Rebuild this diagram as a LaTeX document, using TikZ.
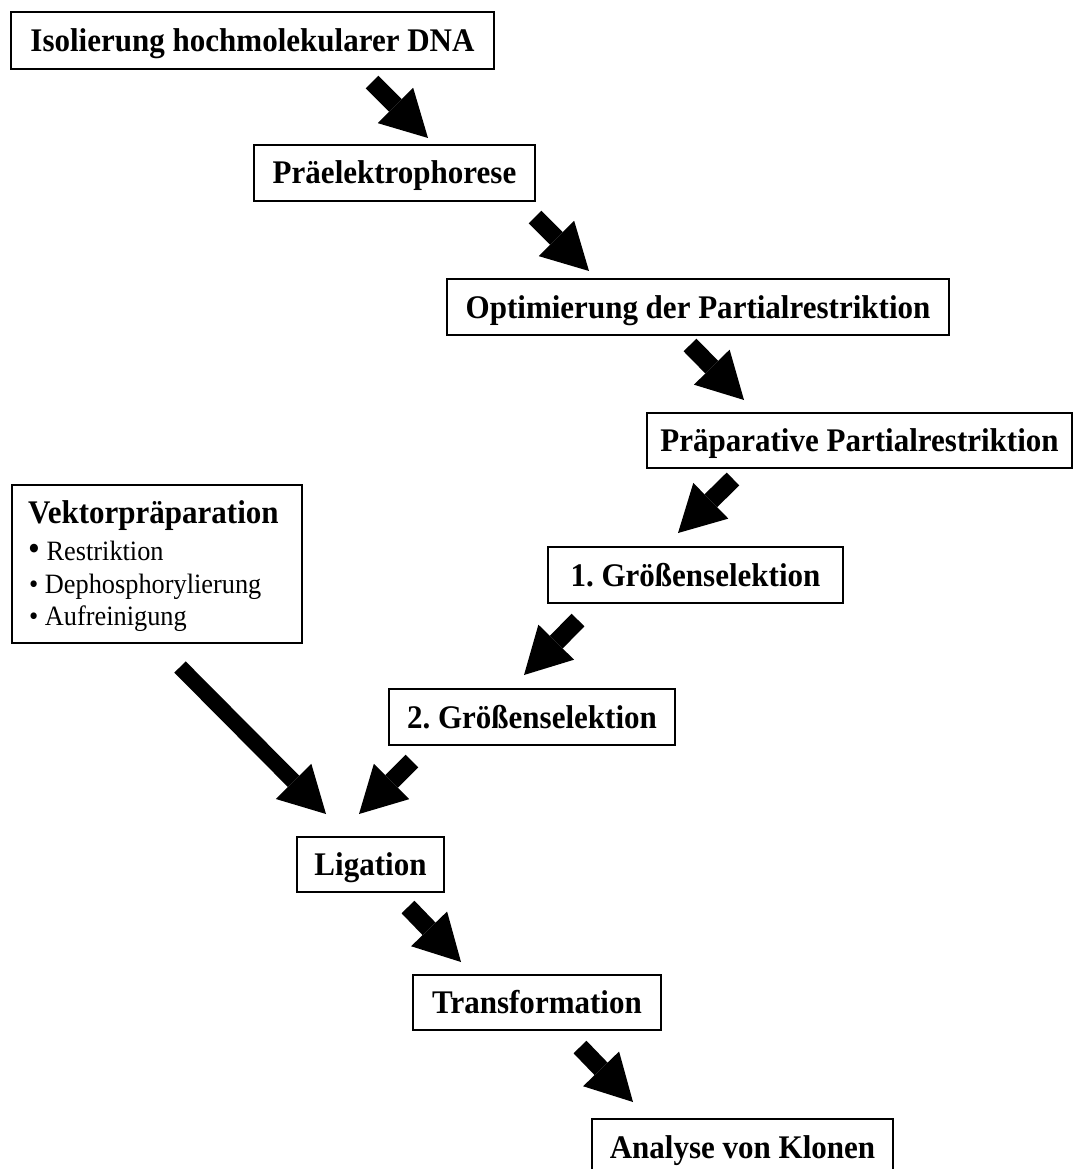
\documentclass[tikz,border=0pt]{standalone}
\usepackage{fontspec}
\setmainfont{Liberation Serif}
\newfontfamily\tallserif{Liberation Serif}[FakeStretch=0.94]
\usetikzlibrary{arrows.meta}
\frenchspacing
\begin{document}
\begin{tikzpicture}[x=1pt,y=-1pt,
  box/.style={draw, line width=1.5pt, rectangle, minimum height=56pt, inner sep=0pt,
    text height=22pt, text depth=0pt, font=\tallserif\fontsize{33}{38}\selectfont\bfseries},
  vline/.style={anchor=base west, inner sep=0pt, font=\tallserif\fontsize{28}{32}\selectfont},
  barrow/.style={line width=18pt, -{Triangle[length=46pt,width=50pt,line width=0pt]}}
]
\useasboundingbox (0,0) rectangle (1074,1169);
\clip (0,0) rectangle (1074,1169);

% process boxes
\node[box, minimum width=483pt, minimum height=57pt] (iso) at (252.5,40.5) {Isolierung hochmolekularer DNA};
\node[box, minimum width=281pt] (pre) at (394.5,173) {Präelektrophorese};
\node[box, minimum width=502pt] (opt) at (698,307) {Optimierung der Partialrestriktion};
\node[box, minimum width=425pt, minimum height=55pt] (prep) at (859.5,440.5) {Präparative Partialrestriktion};
\node[box, minimum width=295pt] (gs1) at (695.5,575) {1. Größenselektion};
\node[box, minimum width=286pt] (gs2) at (532,717) {2. Größenselektion};
\node[box, minimum width=147pt, minimum height=55pt] (lig) at (370.5,864.5) {Ligation};
\node[box, minimum width=248pt, minimum height=55pt] (trf) at (537,1002.5) {Transformation};
\node[box, minimum width=301pt] (ana) at (742.5,1147) {Analyse von Klonen};

% vector preparation box
\node[draw, line width=1.5pt, rectangle, inner sep=0pt, minimum width=290pt, minimum height=158pt,
  anchor=north west] (vec) at (11,484) {};
\node[anchor=base west, inner sep=0pt, font=\tallserif\fontsize{33}{38}\selectfont\bfseries] (vtitle) at (28,523) {Vektorpräparation};
\node[vline] (v1) at (28,560) {{\fontsize{36}{36}\selectfont •} Restriktion};
\node[vline] (v2) at (29,593) {• Dephosphorylierung};
\node[vline] (v3) at (29,625) {• Aufreinigung};

% arrow end points
\coordinate (a1s) at (372,82);   \coordinate (a1e) at (428,138);
\coordinate (a2s) at (535,217);  \coordinate (a2e) at (589,271);
\coordinate (a3s) at (690,345);  \coordinate (a3e) at (744,400);
\coordinate (a4s) at (733,479);  \coordinate (a4e) at (678,533);
\coordinate (a5s) at (578,620);  \coordinate (a5e) at (524,675);
\coordinate (a6s) at (180,667);  \coordinate (a6e) at (326,814);
\coordinate (a7s) at (412,761);  \coordinate (a7e) at (359,814);
\coordinate (a8s) at (408,907);  \coordinate (a8e) at (461,962);
\coordinate (a9s) at (580,1047); \coordinate (a9e) at (633,1102);

\draw[barrow] (a1s) -- (a1e);
\draw[barrow] (a2s) -- (a2e);
\draw[barrow] (a3s) -- (a3e);
\draw[barrow] (a4s) -- (a4e);
\draw[barrow] (a5s) -- (a5e);
\draw[barrow, line width=16pt] (a6s) -- (a6e);
\draw[barrow] (a7s) -- (a7e);
\draw[barrow] (a8s) -- (a8e);
\draw[barrow] (a9s) -- (a9e);
\end{tikzpicture}
\end{document}
